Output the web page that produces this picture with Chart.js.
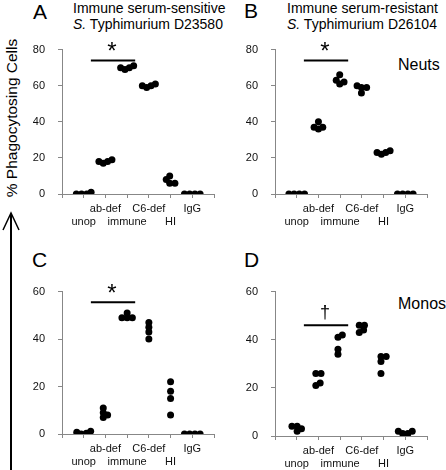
<!DOCTYPE html>
<html>
<head>
<meta charset="utf-8">
<script src="https://cdn.jsdelivr.net/npm/chart.js@4.4.1/dist/chart.umd.min.js"></script>
<style>
  html, body { margin: 0; padding: 0; background: #fff; overflow: hidden; }
  body { width: 446px; height: 470px; position: relative; font-family: "Liberation Sans", Arial, sans-serif; color: #000; }
  canvas { position: absolute; }
  .txt { position: absolute; white-space: nowrap; }
  .letter { font-size: 21px; line-height: 21px; }
  .title { font-size: 14px; line-height: 15.5px; }
  .cell { font-size: 16px; line-height: 16px; }
  .ytitle { font-size: 15.5px; line-height: 16px; width: 200px; text-align: center; transform: rotate(-90deg); }
</style>
</head>
<body>

<div class="txt letter" style="left:33px; top:1px;">A</div>
<div class="txt title" style="left:73px; top:1px;">Immune serum-sensitive<br><i>S.</i> Typhimurium D23580</div>
<div class="txt letter" style="left:244px; top:0px;">B</div>
<div class="txt title" style="left:287px; top:1px;">Immune serum-resistant<br><i>S.</i> Typhimurium D26104</div>
<div class="txt cell" style="left:398px; top:57px;">Neuts</div>
<div class="txt letter" style="left:32px; top:249px;">C</div>
<div class="txt letter" style="left:244px; top:249px;">D</div>
<div class="txt cell" style="left:398px; top:296px;">Monos</div>
<div class="txt ytitle" style="left:-88px; top:110px;">% Phagocytosing Cells</div>

<svg style="position:absolute; left:0; top:0;" width="30" height="470">
  <line x1="11" y1="214" x2="11" y2="470" stroke="#000" stroke-width="2"/>
  <polyline points="3,230 11,213 19,230" fill="none" stroke="#000" stroke-width="1.5"/>
</svg>

<canvas id="chart-a" width="200" height="200" style="left:20px; top:30px;"></canvas>
<canvas id="chart-b" width="200" height="200" style="left:233px; top:30px;"></canvas>
<canvas id="chart-c" width="200" height="198" style="left:20px; top:272px;"></canvas>
<canvas id="chart-d" width="200" height="200" style="left:233px; top:272px;"></canvas>

<script>
  const categories = ['unop', 'ab-def', 'immune', 'C6-def', 'HI', 'IgG'];

  // % phagocytosing cells, 4 replicates per condition
  const neutsSensitive = [[0, 1, 0, 0], [19, 18, 18, 17], [71, 70, 70, 69], [61, 60, 60, 59], [10, 8, 6, 6], [0, 0, 0, 0]];
  const neutsResistant = [[0, 0, 0, 0], [40, 37, 36, 37], [66, 63, 62, 61], [60, 59, 59, 56], [24, 23, 23, 22], [0, 0, 0, 0]];
  const monosSensitive = [[0, 0.3, 1.2, 0.7], [11, 9, 8, 7], [51, 49, 49, 49], [47, 45, 43, 40], [22, 18, 15, 8], [0, 0, 0, 0]];
  const monosResistant = [[4, 2, 3, 4], [26, 26, 21, 22], [42, 41, 36, 34], [46, 46, 43, 44], [33, 33, 31, 26], [2, 1, 1, 2]];

  const yMaxes = [80, 80, 60, 60];
  const sigLevels = [74, 74, 55.5, 46];
  const sigMarks = ['*', '*', '*', '†'];
  const sigFrom = 1.33, sigTo = 3.37, sigMarkAt = 2.3;

  const AXIS = '#878787';
  const FONT = '"Liberation Sans", Arial, sans-serif';
  const PLOT_W = 152;

  // simple beeswarm so replicate dots don't sit on top of each other
  function swarm(values, pxX, pxY) {
    const D = 4.6, step = 0.04;
    const order = values.map((v, i) => i).sort((a, b) => values[a] - values[b]);
    const placed = [];
    const offs = new Array(values.length).fill(0);
    order.forEach(i => {
      for (let k = 0; k < 80; k++) {
        const o = (k % 2 ? 1 : -1) * Math.ceil(k / 2) * step;
        const ok = placed.every(p => Math.hypot((p.o - o) * pxX, (p.v - values[i]) * pxY) >= D);
        if (ok) { offs[i] = o; placed.push({ o, v: values[i] }); break; }
      }
    });
    const mid = (Math.max(...offs) + Math.min(...offs)) / 2;
    return offs.map(o => o - mid);
  }

  const sigMarkPlugin = {
    id: 'sigMark',
    afterDatasetsDraw(chart, args, opts) {
      const { ctx, scales: { x, y } } = chart;
      ctx.save();
      ctx.fillStyle = '#000';
      ctx.textAlign = 'center';
      ctx.textBaseline = 'alphabetic';
      if (opts.text === '*') {
        ctx.font = '24px ' + FONT;
        ctx.fillText(opts.text, x.getPixelForValue(sigMarkAt), y.getPixelForValue(opts.level) - 1);
      } else {
        ctx.font = '18px ' + FONT;
        ctx.fillText(opts.text, x.getPixelForValue(sigMarkAt), y.getPixelForValue(opts.level) - 7);
      }
      ctx.restore();
    }
  };

  function makePanel(id, values, idx) {
    const canvas = document.getElementById(id);
    const yMax = yMaxes[idx];
    const plotH = canvas.height - 16 - 36;
    const pxX = PLOT_W / 7, pxY = plotH / yMax;

    const points = [];
    values.forEach((vals, ci) => {
      const offs = swarm(vals, pxX, pxY);
      vals.forEach((v, j) => points.push({ x: ci + 1 + offs[j], y: v }));
    });

    const axisLook = {
      border: { display: true, color: AXIS, width: 1 },
      grid: { drawOnChartArea: false, drawTicks: true, tickLength: 4, color: AXIS, lineWidth: 1 },
    };

    return new Chart(canvas, {
      type: 'scatter',
      data: {
        datasets: [
          { data: points, pointRadius: 3.5, pointHoverRadius: 3.5, backgroundColor: '#000', borderWidth: 0 },
          {
            data: [{ x: sigFrom, y: sigLevels[idx] }, { x: sigTo, y: sigLevels[idx] }],
            showLine: true, borderColor: '#000', borderWidth: 2, pointRadius: 0,
          },
        ],
      },
      options: {
        responsive: false,
        animation: false,
        layout: { padding: { top: 16, right: 200 - 42 - PLOT_W, left: 0, bottom: 0 } },
        plugins: {
          legend: { display: false },
          tooltip: { enabled: false },
          sigMark: { text: sigMarks[idx], level: sigLevels[idx] },
        },
        scales: {
          x: {
            type: 'linear', min: 0, max: 7,
            afterFit: s => { s.height = 36; },
            ...axisLook,
            ticks: {
              stepSize: 1, autoSkip: false, maxRotation: 0, padding: 4, color: '#111',
              font: { family: FONT, size: 11, lineHeight: 1.2 },
              callback: v => {
                const name = categories[v - 1];
                if (!name) return '';
                return v % 2 ? ['', name] : name;
              },
            },
          },
          y: {
            min: 0, max: yMax,
            afterFit: s => { s.width = 42; },
            ...axisLook,
            ticks: { stepSize: 20, padding: 13, color: '#111', font: { family: FONT, size: 11 } },
          },
        },
      },
      plugins: [sigMarkPlugin],
    });
  }

  makePanel('chart-a', neutsSensitive, 0);
  makePanel('chart-b', neutsResistant, 1);
  makePanel('chart-c', monosSensitive, 2);
  makePanel('chart-d', monosResistant, 3);
</script>
</body>
</html>
